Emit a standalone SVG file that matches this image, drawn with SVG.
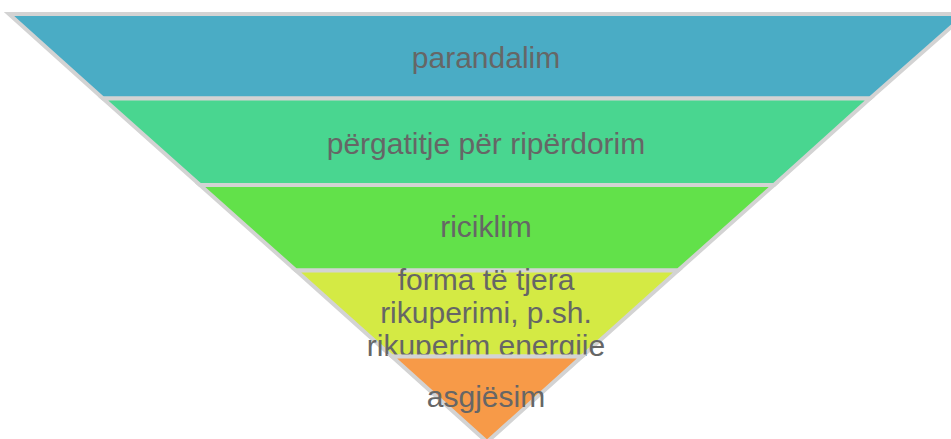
<svg xmlns="http://www.w3.org/2000/svg" width="951" height="439" viewBox="0 0 951 439">
<style>
.band{stroke:#d3d3d3;stroke-width:4;stroke-linejoin:miter}
.lbl{font-family:"Liberation Sans",Arial,sans-serif;font-size:30px;fill:#666666;text-anchor:middle}
</style>
<rect width="951" height="439" fill="#ffffff"/>
<g id="band1">
<polygon class="band" fill="#4aacc5" points="9,14 966,14 870,98.5 103,98.5"/>
<text class="lbl" x="486" y="68">parandalim</text>
</g>
<g id="band2">
<polygon class="band" fill="#49d690" points="103,98.5 870,98.5 774,185 200,185"/>
<text class="lbl" x="486" y="154">përgatitje për ripërdorim</text>
</g>
<g id="band3">
<polygon class="band" fill="#62e14a" points="200,185 774,185 678,270.5 296,270.5"/>
<text class="lbl" x="486" y="237">riciklim</text>
</g>
<g id="band4">
<polygon class="band" fill="#d4ea44" points="296,270.5 678,270.5 582,356.5 392,356.5"/>
<text class="lbl" x="486" y="290">forma të tjera</text>
<text class="lbl" x="486" y="323">rikuperimi, p.sh.</text>
<text class="lbl" x="486" y="356">rikuperim energjie</text>
</g>
<g id="band5">
<polygon class="band" fill="#f79a48" points="392,356.5 582,356.5 487,442"/>
<text class="lbl" x="486" y="407">asgjësim</text>
</g>
</svg>
